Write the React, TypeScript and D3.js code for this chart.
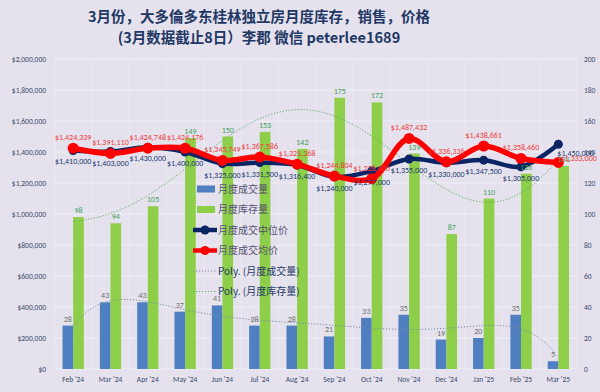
import React from 'react';
import * as d3 from 'd3';

// chart data
const months = ["Feb '24", "Mar '24", "Apr '24", "May '24", "Jun '24", "Jul '24", "Aug '24", "Sep '24", "Oct '24", "Nov '24", "Dec '24", "Jan '25", "Feb '25", "Mar '25"];
const sales = [28, 43, 43, 37, 41, 28, 28, 21, 33, 35, 19, 20, 35, 5];
const inventory = [98, 94, 105, 149, 150, 153, 142, 175, 172, 139, 87, 110, 126, 131];
const medianPrice = [1410000, 1403000, 1430000, 1400000, 1325000, 1331500, 1316400, 1240000, 1277000, 1355000, 1330000, 1347500, 1305000, 1450000];
const avgPrice = [1424339, 1391110, 1424748, 1424176, 1345749, 1367586, 1321368, 1244804, 1228000, 1487432, 1336336, 1438661, 1358460, 1333000];
const priceTicks = [0, 200000, 400000, 600000, 800000, 1000000, 1200000, 1400000, 1600000, 1800000, 2000000];
const countTicks = [0, 20, 40, 60, 80, 100, 120, 140, 160, 180, 200];

const W = 600;
const H = 392;
const BG = '#E5E2EE';
const CJK = '"Noto Sans CJK SC", "Noto Sans", sans-serif';
const LAT = 'Calibri, "Liberation Sans", "Noto Sans", sans-serif';

// least squares polynomial trendline (like Excel's Poly. trendline)
function polyFit(ys: number[], order: number) {
  const n = ys.length;
  const mid = (n + 1) / 2;
  const half = (n - 1) / 2;
  const m = order + 1;
  const A: number[][] = Array.from({ length: m }, () => new Array(m + 1).fill(0));
  ys.forEach((y, i) => {
    const t = (i + 1 - mid) / half;
    for (let r = 0; r < m; r++) {
      for (let c = 0; c < m; c++) A[r][c] += Math.pow(t, r + c);
      A[r][m] += y * Math.pow(t, r);
    }
  });
  for (let col = 0; col < m; col++) {
    let piv = col;
    for (let r = col + 1; r < m; r++) if (Math.abs(A[r][col]) > Math.abs(A[piv][col])) piv = r;
    [A[col], A[piv]] = [A[piv], A[col]];
    for (let r = 0; r < m; r++) {
      if (r === col) continue;
      const f = A[r][col] / A[col][col];
      for (let c = col; c <= m; c++) A[r][c] -= f * A[col][c];
    }
  }
  const coef = A.map((row, i) => row[m] / row[i]);
  return (i: number) => {
    const t = (i - mid) / half;
    return coef.reduce((s, c, k) => s + c * Math.pow(t, k), 0);
  };
}

const fmt = (v: number) => '$' + d3.format(',')(v);

export default function App() {
  const plot = { left: 54.5, right: 577, top: 59, bottom: 369 };

  const x = d3.scaleBand<string>().domain(months).range([plot.left, plot.right]).padding(0);
  const step = x.step();
  const cx = (i: number) => (x(months[i]) as number) + step / 2;
  const barW = step * 0.285;

  const yP = d3.scaleLinear().domain([0, 2000000]).range([plot.bottom, plot.top]);
  const yC = d3.scaleLinear().domain([0, 200]).range([plot.bottom, plot.top]);

  const priceLine = d3
    .line<number>()
    .x((_, i) => cx(i))
    .y(d => yP(d))
    .curve(d3.curveCatmullRom.alpha(0.5));

  // trendlines sampled along the category index
  const salesFit = polyFit(sales, 6);
  const invFit = polyFit(inventory, 6);
  const samples = d3.range(1, months.length + 0.001, 0.1);
  const salesTrend = d3
    .line<number>()
    .x(t => cx(0) + (t - 1) * step)
    .y(t => yC(salesFit(t)))(samples);
  const invTrend = d3
    .line<number>()
    .x(t => cx(0) + (t - 1) * step)
    .y(t => yC(invFit(t)))(samples);

  const legendItems = [
    { label: '月度成交量', kind: 'bar', color: '#4F7FC0' },
    { label: '月度库存量', kind: 'bar', color: '#8DCF49' },
    { label: '月度成交中位价', kind: 'line', color: '#0B2463' },
    { label: '月度成交均价', kind: 'line', color: '#FF0000' },
    { label: 'Poly. (月度成交量)', kind: 'trend', color: '#7C8CA8' },
    { label: 'Poly. (月度库存量)', kind: 'trend', color: '#5EAE5E' },
  ];

  const last = months.length - 1;

  return (
    <div style={{ position: 'absolute', left: 0, top: 0, width: W, height: H }}>
      <svg width={W} height={H} style={{ display: 'block', background: BG }}>
        <rect x={0} y={0} width={W} height={H} fill={BG} />

        {/* title */}
        <g fill="#1F3864" fontFamily={CJK} fontWeight="bold" fontSize={14.5} textAnchor="middle">
          <text x={259} y={22}>3月份，大多倫多东桂林独立房月度库存，销售，价格</text>
          <text x={259} y={43}>(3月数据截止8日）李郡 微信 peterlee1689</text>
        </g>

        {/* gridlines */}
        <g stroke="#EFEEF5" strokeWidth={1}>
          {priceTicks.map(t => (
            <line key={t} x1={plot.left} x2={plot.right} y1={yP(t)} y2={yP(t)} />
          ))}
          {months.map(m => (
            <line key={m} x1={x(m)} x2={x(m)} y1={plot.top} y2={plot.bottom} opacity={0.6} />
          ))}
          <line x1={plot.right} x2={plot.right} y1={plot.top} y2={plot.bottom} opacity={0.6} />
        </g>

        {/* axes labels */}
        <g fontFamily={LAT} fontSize={7.5} fill="#3B4A6B">
          {priceTicks.map(t => (
            <text key={t} x={46} y={yP(t) + 2.5} textAnchor="end">{fmt(t)}</text>
          ))}
          {countTicks.map(t => (
            <text key={t} x={584} y={yC(t) + 2.5} textAnchor="start">{t}</text>
          ))}
          {months.map((m, i) => (
            <text key={m} x={cx(i)} y={382} textAnchor="middle">{m}</text>
          ))}
        </g>

        {/* bars */}
        {sales.map((v, i) => (
          <rect key={'s' + i} x={cx(i) - barW} y={yC(v)} width={barW} height={yC(0) - yC(v)} fill="#4F7FC0" />
        ))}
        {inventory.map((v, i) => (
          <rect key={'v' + i} x={cx(i)} y={yC(v)} width={barW} height={yC(0) - yC(v)} fill="#8DCF49" />
        ))}

        {/* trendlines */}
        <path d={salesTrend || ''} fill="none" stroke="#7C8CA8" strokeWidth={1} strokeDasharray="1.2 1.8" />
        <path d={invTrend || ''} fill="none" stroke="#5EAE5E" strokeWidth={1} strokeDasharray="1.2 1.8" />

        {/* price lines */}
        <path d={priceLine(medianPrice) || ''} fill="none" stroke="#0B2463" strokeWidth={4.5} strokeLinejoin="round" />
        {medianPrice.map((v, i) => (
          <circle key={'mp' + i} cx={cx(i)} cy={yP(v)} r={4.5} fill="#0B2463" />
        ))}
        <path d={priceLine(avgPrice) || ''} fill="none" stroke="#FF0000" strokeWidth={5.5} strokeLinejoin="round" />
        {avgPrice.map((v, i) => (
          <circle key={'ap' + i} cx={cx(i)} cy={yP(v)} r={5.5} fill="#FF0000" />
        ))}

        {/* data labels */}
        <g fontFamily={LAT} fontSize={8} textAnchor="middle">
          {sales.map((v, i) => (
            <text key={'sl' + i} x={cx(i) - barW / 2} y={yC(v) - 4} fill="#707070">{v}</text>
          ))}
          {inventory.map((v, i) => (
            <text key={'vl' + i} x={cx(i) + barW / 2} y={yC(v) - 4} fill="#3FA05A">{v}</text>
          ))}
          {medianPrice.map((v, i) => (
            <text
              key={'ml' + i}
              x={i === last ? cx(i) - 1 : cx(i)}
              y={i === last ? yP(v) + 12 : yP(v) + 14}
              textAnchor={i === last ? 'start' : 'middle'}
              fill="#233A6E"
            >
              {fmt(v)}
            </text>
          ))}
          {avgPrice.map((v, i) => (
            <text
              key={'al' + i}
              x={i === last ? cx(i) + 2 : cx(i)}
              y={i === last ? yP(v) - 1 : yP(v) - 8}
              textAnchor={i === last ? 'start' : 'middle'}
              fill="#F03A3A"
            >
              {fmt(v)}
            </text>
          ))}
        </g>

        {/* legend */}
        <g fontFamily={CJK} fontSize={10}>
          {legendItems.map((it, i) => {
            const ly = 189 + i * 20.5;
            return (
              <g key={it.label} transform={`translate(193,${ly})`}>
                {it.kind === 'bar' && <rect x={4} y={-3.5} width={18} height={7} fill={it.color} />}
                {it.kind === 'line' && (
                  <g>
                    <line x1={0} x2={24} y1={0} y2={0} stroke={it.color} strokeWidth={4.5} />
                    <circle cx={12} cy={0} r={4.5} fill={it.color} />
                  </g>
                )}
                {it.kind === 'trend' && (
                  <line x1={0} x2={24} y1={0} y2={0} stroke={it.color} strokeWidth={1} strokeDasharray="1.2 1.8" />
                )}
                <text x={25} y={3.5} fill={it.kind === 'trend' ? '#1F3864' : '#55506E'}>{it.label}</text>
              </g>
            );
          })}
        </g>
      </svg>
    </div>
  );
}
